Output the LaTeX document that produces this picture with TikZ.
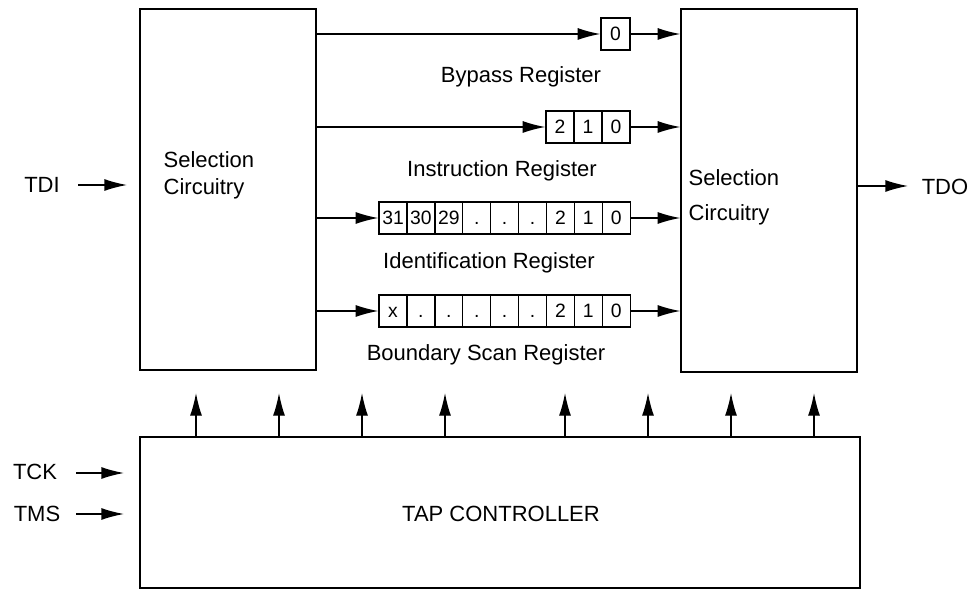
\documentclass[tikz,border=0pt]{standalone}
\usepackage{fontspec}
\setmainfont{Liberation Sans}
\usetikzlibrary{arrows.meta}
\begin{document}
\begin{tikzpicture}[x=0.75pt,y=-0.75pt,
  line width=1pt,
  arr/.style={-{Latex[length=17pt,width=9pt]}},
  bigbox/.style={draw,inner sep=0pt},
  cell/.style={draw,minimum width=21pt,minimum height=24pt,inner sep=0pt,text height=10pt,text depth=0pt,font=\fontsize{14.5}{16}\selectfont},
  lbl/.style={font=\fontsize{16.5}{19}\selectfont,inner sep=0pt}]
\useasboundingbox (0,0) rectangle (974,591);
% boxes
\node[bigbox,minimum width=132pt,minimum height=270.75pt] (L) at (228,189.5) {};
\node[bigbox,minimum width=132pt,minimum height=272.25pt] (R) at (769,190.5) {};
\node[bigbox,minimum width=540pt,minimum height=113.25pt] (T) at (500,512.5) {};
\node[lbl,align=left,anchor=west] (Ltxt) at (163,175) {Selection\\[1pt]Circuitry};
\node[lbl,align=left,anchor=west] (Rtxt) at (688,197) {Selection\\[7pt]Circuitry};
\node[lbl] (Ttxt) at (501,514) {TAP CONTROLLER};
% bypass
\node[cell,minimum width=21.75pt] (b0) at (615.5,34) {0};
\draw[arr] (L.east |- b0.west) -- (b0.west);
\draw[arr] (b0.east) -- (R.west |- b0.east);
\node[lbl] (bl) at (521,77) {Bypass Register};
% instruction
\foreach \t [count=\i] in {2,1,0}
  \node[cell] (ir\i) at ({546+14+28*(\i-1)},127) {\t};
\draw[arr] (L.east |- ir1.west) -- (ir1.west);
\draw[arr] (ir3.east) -- (R.west |- ir3.east);
\node[lbl] (il) at (502,171) {Instruction Register};
% identification
\foreach \t [count=\i] in {31,30,29,.,.,.,2,1,0}
  \node[cell] (id\i) at ({379+14+27.9*(\i-1)},218) {\t};
\draw[arr] (L.east |- id1.west) -- (id1.west);
\draw[arr] (id9.east) -- (R.west |- id9.east);
\node[lbl] (dl) at (489,263) {Identification Register};
% boundary scan
\foreach \t [count=\i] in {x,.,.,.,.,.,2,1,0}
  \node[cell] (bs\i) at ({379+14+27.9*(\i-1)},311) {\t};
\draw[arr] (L.east |- bs1.west) -- (bs1.west);
\draw[arr] (bs9.east) -- (R.west |- bs9.east);
\node[lbl] (sl) at (486,355) {Boundary Scan Register};
% TDI / TDO
\node[lbl] (tdi) at (42,185) {TDI};
\coordinate (tdiA) at (78,185);
\coordinate (tdiB) at (127,185);
\draw[arr] (tdiA) -- (tdiB);
\node[lbl] (tdo) at (945,187) {TDO};
\coordinate (tdoB) at (908,186);
\draw[arr] (R.east |- tdoB) -- (tdoB);
% TCK / TMS
\node[lbl] (tck) at (35,472) {TCK};
\coordinate (tckA) at (76,473);
\coordinate (tckB) at (124,473);
\draw[arr] (tckA) -- (tckB);
\node[lbl] (tms) at (37,514) {TMS};
\coordinate (tmsA) at (76,514);
\coordinate (tmsB) at (124,514);
\draw[arr] (tmsA) -- (tmsB);
% control arrows up
\foreach \x [count=\i] in {196,279,362,445,565,648,731,814} {
  \coordinate (up\i) at (\x,393);
  \draw[arr] (T.north -| up\i) -- (up\i);
}
\end{tikzpicture}
\end{document}
